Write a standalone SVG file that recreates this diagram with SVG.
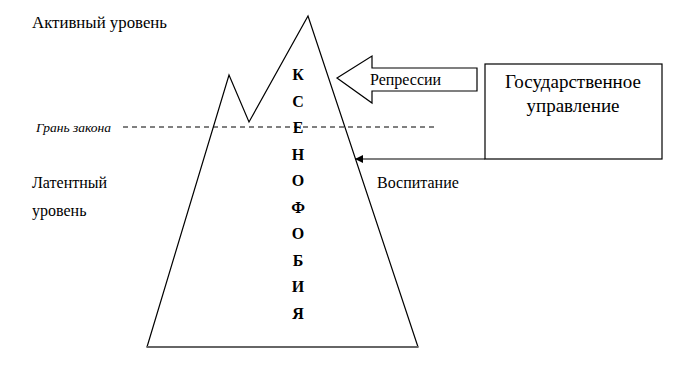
<svg xmlns="http://www.w3.org/2000/svg" width="700" height="368" viewBox="0 0 700 368">
<defs>
<style>
.t{font-size:16px}
.l{font-size:16px;font-weight:bold;text-anchor:middle}
.ln{fill:none;stroke:#000;stroke-width:1.2}
</style>
<marker id="ah" viewBox="0 0 10 10" refX="10" refY="5" markerWidth="8" markerHeight="8" markerUnits="userSpaceOnUse" orient="auto">
<path d="M0,0 L10,5 L0,10 z" fill="#000"/>
</marker>
</defs>
<rect width="700" height="368" fill="#fff"/>
<g font-family="'Liberation Serif', 'Times New Roman', serif" fill="#000">
<g id="labels">
<text class="t" x="32" y="28" textLength="135" lengthAdjust="spacingAndGlyphs">Активный уровень</text>
<text x="36" y="132" font-size="13.5" font-style="italic">Грань  закона</text>
<text class="t" x="32" y="188">Латентный</text>
<text class="t" x="32" y="216">уровень</text>
<text class="t" x="377" y="188">Воспитание</text>
</g>
<g id="law-line">
<line x1="123" y1="127" x2="435" y2="127" stroke="#000" stroke-width="1" stroke-dasharray="5,4"/>
</g>
<g id="iceberg">
<polygon class="ln" points="147,347 229,75 249,122 308,16 418,347"/>
<line x1="147" y1="347" x2="418" y2="347" stroke="#666" stroke-width="2"/>
<text class="l" x="298" y="80">К</text>
<text class="l" x="298" y="107">С</text>
<text class="l" x="298" y="133">Е</text>
<text class="l" x="298" y="160">Н</text>
<text class="l" x="298" y="186">О</text>
<text class="l" x="298" y="213">Ф</text>
<text class="l" x="298" y="239">О</text>
<text class="l" x="298" y="266">Б</text>
<text class="l" x="298" y="292">И</text>
<text class="l" x="298" y="319">Я</text>
</g>
<g id="repressii">
<polygon class="ln" points="337,78 372,56 372,68 477,68 477,91 372,91 372,103"/>
<text class="t" x="370" y="85">Репрессии</text>
</g>
<g id="gos">
<rect class="ln" x="485" y="64" width="177" height="95"/>
<text x="573" y="88" font-size="19" text-anchor="middle">Государственное</text>
<text x="573" y="112" font-size="19" text-anchor="middle">управление</text>
</g>
</g>
<g id="connectors">
<line x1="485" y1="159" x2="355" y2="159" stroke="#000" stroke-width="1.2" marker-end="url(#ah)"/>
</g>
</svg>
